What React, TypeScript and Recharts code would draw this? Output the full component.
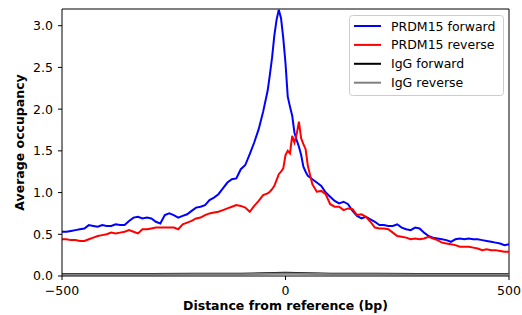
import { LineChart, Line, XAxis, YAxis, ReferenceLine, Label } from 'recharts';

// positions in bp (finer near the summit)
const positions = [
  -500, -490, -480, -470, -460, -450, -440, -430, -420, -410,
  -400, -390, -380, -370, -360, -350, -340, -330, -320, -310,
  -300, -290, -280, -270, -260, -250, -240, -230, -220, -210,
  -200, -190, -180, -170, -160, -150, -140, -130, -120, -110,
  -100, -90, -80, -70, -60, -50, -40, -35, -30, -25,
  -20, -15, -10, -5, 0, 5, 10, 15, 20, 25,
  30, 35, 40, 45, 50, 60, 70, 80, 90, 100,
  110, 120, 130, 140, 150, 160, 170, 180, 190, 200,
  210, 220, 230, 240, 250, 260, 270, 280, 290, 300,
  310, 320, 330, 340, 350, 360, 370, 380, 390, 400,
  410, 420, 430, 440, 450, 460, 470, 480, 490, 500,
];

const prdmForward = [
  0.53, 0.53, 0.54, 0.55, 0.56, 0.57, 0.61, 0.60, 0.59, 0.61,
  0.60, 0.60, 0.62, 0.61, 0.61, 0.66, 0.70, 0.71, 0.69, 0.70,
  0.69, 0.65, 0.63, 0.73, 0.75, 0.73, 0.70, 0.72, 0.74, 0.78,
  0.82, 0.83, 0.85, 0.91, 0.94, 0.98, 1.05, 1.12, 1.16, 1.17,
  1.28, 1.33, 1.46, 1.60, 1.76, 1.97, 2.22, 2.41, 2.62, 2.88,
  3.07, 3.19, 3.09, 2.85, 2.55, 2.15, 2.03, 1.92, 1.72, 1.63,
  1.55, 1.45, 1.31, 1.25, 1.20, 1.16, 1.12, 1.08, 1.00, 0.95,
  0.90, 0.87, 0.89, 0.86, 0.78, 0.72, 0.69, 0.71, 0.68, 0.65,
  0.61, 0.61, 0.60, 0.60, 0.62, 0.58, 0.56, 0.55, 0.58, 0.57,
  0.52, 0.48, 0.46, 0.45, 0.44, 0.43, 0.41, 0.44, 0.45, 0.44,
  0.45, 0.44, 0.44, 0.43, 0.42, 0.41, 0.40, 0.39, 0.37, 0.38,
];

const prdmReverse = [
  0.44, 0.44, 0.43, 0.43, 0.42, 0.42, 0.44, 0.46, 0.48, 0.49,
  0.50, 0.52, 0.51, 0.52, 0.53, 0.55, 0.53, 0.51, 0.56, 0.56,
  0.57, 0.58, 0.58, 0.58, 0.58, 0.58, 0.56, 0.62, 0.64, 0.66,
  0.69, 0.70, 0.73, 0.75, 0.76, 0.77, 0.79, 0.81, 0.83, 0.85,
  0.84, 0.82, 0.77, 0.84, 0.90, 0.97, 0.99, 1.01, 1.04, 1.08,
  1.15, 1.22, 1.25, 1.29, 1.45, 1.50, 1.47, 1.68, 1.60, 1.70,
  1.85, 1.65, 1.58, 1.52, 1.32, 1.10, 1.01, 1.02, 0.98, 0.86,
  0.83, 0.83, 0.79, 0.81, 0.80, 0.73, 0.74, 0.71, 0.65, 0.58,
  0.57, 0.57, 0.56, 0.52, 0.48, 0.47, 0.46, 0.44, 0.45, 0.44,
  0.45, 0.47, 0.45, 0.43, 0.40, 0.39, 0.38, 0.37, 0.35, 0.35,
  0.35, 0.34, 0.33, 0.31, 0.32, 0.31, 0.31, 0.30, 0.29, 0.29,
];

// IgG controls are nearly flat, sampled coarser
const igGPositions = [-500, -400, -300, -200, -100, -50, 0, 50, 100, 200, 300, 400, 500];
const igGForward = [0.024, 0.024, 0.025, 0.026, 0.028, 0.032, 0.038, 0.032, 0.028, 0.026, 0.025, 0.024, 0.024];
const igGReverse = [0.018, 0.018, 0.019, 0.02, 0.022, 0.026, 0.03, 0.026, 0.022, 0.02, 0.019, 0.018, 0.018];

const xTicks = [-500, 0, 500];
const yTicks = [0, 0.5, 1, 1.5, 2, 2.5, 3];

const legendItems = [
  { name: 'PRDM15 forward', color: '#0000ff' },
  { name: 'PRDM15 reverse', color: '#ff0000' },
  { name: 'IgG forward', color: '#000000' },
  { name: 'IgG reverse', color: '#808080' },
];

const FONT = 'DejaVu Sans, sans-serif';

const prdmData = positions.map((x, i) => ({ x, fwd: prdmForward[i], rev: prdmReverse[i] }));
const igGData = igGPositions.map((x, i) => ({ x, fwd: igGForward[i], rev: igGReverse[i] }));

function LegendBox() {
  return (
    <svg width={155} height={81} style={{ position: 'absolute', left: 349, top: 15 }}>
      <rect x={0.5} y={0.5} width={154} height={80} rx={3} fill="rgba(255,255,255,0.8)" stroke="#cccccc" />
      {legendItems.map((it, i) => (
        <g key={it.name}>
          <line x1={5} x2={32} y1={11 + i * 18.9} y2={11 + i * 18.9} stroke={it.color} strokeWidth={2} />
          <text x={42} y={11 + i * 18.9} dy="0.36em" fontSize={12.5} fontFamily={FONT} fill="#000">
            {it.name}
          </text>
        </g>
      ))}
    </svg>
  );
}

const fmtX = (v: number) => (v < 0 ? '\u2212' + Math.abs(v) : String(v));

export default function App() {
  const tickStyle = { fontSize: 12.5, fontFamily: FONT, fill: '#000' };
  return (
    <div style={{ position: 'absolute', left: 0, top: 0, width: 522, height: 315, background: '#fff' }}>
      <LineChart width={522} height={315} margin={{ top: 9, right: 13, bottom: 0, left: 0 }}>
        <XAxis
          dataKey="x"
          type="number"
          domain={[-500, 500]}
          ticks={xTicks}
          tickFormatter={fmtX}
          allowDuplicatedCategory={false}
          height={39}
          tick={tickStyle}
          tickSize={4}
          tickMargin={6}
          axisLine={{ stroke: '#000' }}
          tickLine={{ stroke: '#000' }}
        >
          <Label
            content={() => (
              <text x={285.5} y={310} textAnchor="middle" fontSize={12.5} fontWeight="bold" fontFamily={FONT} fill="#000">
                Distance from reference (bp)
              </text>
            )}
          />
        </XAxis>
        <YAxis
          type="number"
          domain={[0, 3.2]}
          ticks={yTicks}
          tickFormatter={(v: number) => v.toFixed(1)}
          allowDataOverflow
          width={62}
          tick={tickStyle}
          tickSize={4}
          tickMargin={5}
          axisLine={{ stroke: '#000' }}
          tickLine={{ stroke: '#000' }}
        >
          <Label
            content={() => (
              <text
                x={24}
                y={142.5}
                transform="rotate(-90, 24, 142.5)"
                textAnchor="middle"
                fontSize={12.5}
                fontWeight="bold"
                fontFamily={FONT}
                fill="#000"
              >
                Average occupancy
              </text>
            )}
          />
        </YAxis>
        <ReferenceLine y={3.2} stroke="#000" strokeWidth={1} />
        <ReferenceLine x={500} stroke="#000" strokeWidth={1} />
        <Line data={prdmData} dataKey="fwd" stroke="#0000ff" strokeWidth={2} dot={false} isAnimationActive={false} />
        <Line data={prdmData} dataKey="rev" stroke="#ff0000" strokeWidth={2} dot={false} isAnimationActive={false} />
        <Line data={igGData} dataKey="fwd" stroke="#000000" strokeWidth={2} dot={false} isAnimationActive={false} />
        <Line data={igGData} dataKey="rev" stroke="#808080" strokeWidth={2} dot={false} isAnimationActive={false} />
      </LineChart>
      <LegendBox />
    </div>
  );
}
